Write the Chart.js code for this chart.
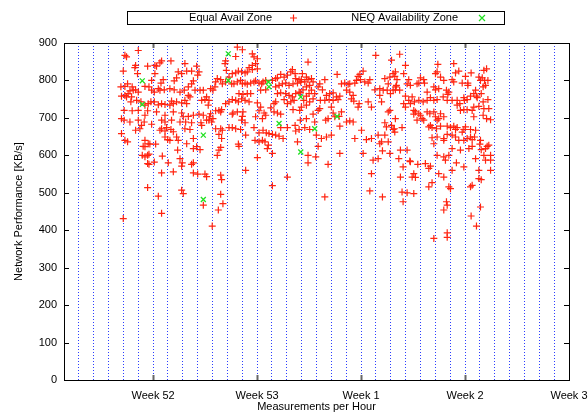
<!DOCTYPE html>
<html>
<head>
<meta charset="utf-8">
<script src="https://cdn.jsdelivr.net/npm/chart.js@4.4.0/dist/chart.umd.min.js"></script>
<style>
  html, body { margin: 0; padding: 0; background: #fff; }
</style>
</head>
<body>
<canvas id="perfChart" width="588" height="414"></canvas>
<script>
// x = day since start of the plotted range (grid every day), y = KB/s
const weekDays = [6, 13, 20, 27, 34];
const weekLabels = ['Week 52', 'Week 53', 'Week 1', 'Week 2', 'Week 3'];

// Equal Avail Zone, days 3.8 - 9.7
const equalDays4to9 = [
  [5.00,880],[4.10,867],[4.21,863],[6.57,852],[7.20,852],[6.46,847],[4.82,840],[4.77,834],[5.63,838],[6.12,840],
  [6.23,838],[8.14,845],[8.93,838],[4.95,818],[3.99,825],[7.69,823],[7.92,818],[8.26,825],[8.59,825],[9.09,823],
  [9.00,814],[7.58,807],[7.42,799],[6.68,802],[6.53,793],[6.12,818],[5.90,800],[4.28,791],[4.10,784],[3.83,783],
  [4.59,783],[5.45,784],[5.72,783],[5.90,774],[6.08,769],[6.35,778],[6.46,774],[6.75,775],[7.13,778],[7.42,775],
  [7.81,769],[8.10,774],[8.37,783],[8.59,791],[8.71,799],[8.82,774],[9.16,774],[9.38,774],[9.60,756],[9.49,749],
  [9.27,747],[8.37,760],[8.48,756],[8.14,747],[8.26,738],[7.92,740],[7.58,743],[7.24,745],[7.36,738],[7.13,734],
  [6.80,736],[6.57,738],[6.35,735],[6.08,743],[5.85,743],[5.67,738],[5.45,734],[5.18,743],[4.89,747],[4.55,756],
  [4.50,743],[4.21,756],[3.87,758],[4.10,760],[4.32,765],[4.44,772],[4.66,774],[4.82,775],[5.00,769],
  [4.05,720],[4.59,719],[5.00,720],[5.63,719],[6.23,716],[6.80,707],[7.36,716],[7.92,713],[8.03,703],[8.37,704],
  [8.71,707],[9.09,710],[9.38,707],[9.60,694],[3.87,698],[4.05,694],[4.44,689],[5.00,694],[5.40,689],[5.45,707],
  [5.90,683],[6.57,694],[6.80,689],[7.24,694],[7.81,689],[8.19,689],[8.59,687],[9.22,687],[9.27,680],[8.14,671],
  [8.48,669],[6.91,674],[6.57,671],[6.46,667],[6.80,665],[7.20,669],[7.36,663],[5.22,680],[5.11,671],[4.82,667],
  [3.87,658],[4.10,640],[4.28,636],[5.45,640],[5.67,631],[5.33,624],[5.45,623],[5.78,630],[6.17,630],[6.80,649],
  [6.98,642],[7.13,640],[7.58,649],[7.69,640],[8.71,645],[9.16,615],[7.65,614],[8.26,631],[8.71,618],[8.93,623],
  [5.27,600],[5.63,600],[5.72,603],[5.45,596],[6.62,598],[7.02,580],[7.81,591],[7.96,580],[7.92,571],[8.71,580],
  [8.59,576],[5.63,578],[5.72,576],[6.08,582],[6.57,553],[7.36,556],[8.71,553],[9.00,550],[9.49,550],[9.60,543],
  [7.92,507],[8.03,498],[5.63,514],[6.35,491],[9.38,467],[6.57,445],[3.99,431]
];

// Equal Avail Zone, days 9.7 - 16
const equalDays10to15 = [
  [11.67,889],[12.01,882],[11.56,864],[12.68,871],[12.79,863],[13.02,858],[10.88,852],[10.84,845],[12.68,840],[12.90,845],
  [13.02,831],[12.68,829],[12.46,834],[12.34,823],[12.19,820],[11.96,823],[11.74,825],[11.56,820],[11.33,818],[10.93,827],
  [11.11,809],[10.88,796],[10.55,802],[10.32,805],[10.21,796],[10.16,783],[10.03,774],[9.87,778],[10.66,791],[11.29,791],
  [11.44,791],[11.67,796],[11.89,800],[12.01,791],[12.19,793],[12.34,790],[12.57,793],[12.79,796],[12.90,799],[13.13,793],
  [13.31,791],[13.40,796],[13.58,800],[13.58,775],[13.24,774],[14.03,800],[14.25,805],[14.37,807],[14.59,816],[14.82,809],
  [15.04,814],[15.27,823],[15.38,829],[15.56,818],[15.60,805],[15.83,802],[15.94,796],[15.72,793],[15.42,791],[15.15,787],
  [14.93,793],[14.70,791],[14.48,787],[14.25,783],[14.59,767],[14.93,765],[14.37,765],[15.15,760],[15.38,756],[15.60,765],
  [15.83,769],[15.49,747],[15.27,743],[15.04,738],[14.82,749],[14.25,743],[14.14,738],[14.14,716],[14.37,713],[14.59,710],
  [13.92,727],[15.87,720],[15.42,722],[9.76,747],[9.71,734],[9.87,711],[9.80,703],[10.03,698],[9.94,689],[9.76,694],
  [10.21,719],[10.43,720],[10.61,722],[10.55,716],[10.88,738],[11.11,743],[11.33,749],[11.56,747],[11.74,743],[11.96,751],
  [12.19,747],[12.46,743],[12.57,765],[12.34,765],[12.05,763],[11.78,765],[13.02,740],[13.24,729],[13.13,719],[13.47,713],
  [13.58,707],[12.90,703],[13.36,698],[11.38,713],[11.67,716],[12.05,716],[12.01,704],[11.96,694],[12.19,687],[11.33,710],
  [11.11,674],[11.33,674],[11.56,671],[11.89,669],[12.23,654],[12.79,674],[13.13,660],[12.86,640],[13.13,636],[13.36,640],
  [13.53,636],[13.62,660],[13.40,667],[13.80,658],[14.03,656],[13.69,618],[14.03,605],[13.76,627],[14.59,674],[15.04,674],
  [15.56,680],[15.60,665],[15.83,669],[15.72,636],[14.75,645],[14.25,654],[14.48,651],[10.21,671],[10.55,671],[10.66,667],
  [10.43,656],[10.61,645],[10.43,614],[10.32,600],[10.55,621],[11.78,624],[11.74,630],[10.55,547],[10.61,535],[12.23,560],
  [13.02,594],[15.04,542],[14.03,519],[10.55,496],[10.70,471],[10.39,454],[9.98,411]
];

// Equal Avail Zone, days 16 - 22.3
const equalDays16to22 = [
  [16.43,849],[20.99,867],[22.05,854],[18.39,816],[17.56,802],[17.22,791],[17.11,783],[17.40,775],[16.05,818],[16.32,809],
  [15.98,802],[16.21,796],[16.43,802],[16.66,805],[16.77,796],[16.54,787],[16.32,783],[16.09,775],[15.91,767],[16.66,774],
  [16.50,765],[16.88,765],[16.32,758],[16.14,747],[16.54,743],[16.32,734],[16.77,751],[15.98,729],[17.89,765],[17.67,760],
  [18.12,767],[18.34,756],[18.57,758],[18.45,749],[18.12,747],[17.85,749],[17.56,747],[17.26,747],[18.68,791],[18.90,793],
  [19.13,790],[19.24,791],[19.58,793],[19.69,800],[19.80,811],[19.92,816],[20.14,825],[19.96,802],[20.25,796],[20.48,793],
  [20.59,802],[20.93,775],[21.26,778],[21.49,774],[21.60,805],[21.83,791],[21.94,809],[22.16,818],[22.27,811],[22.34,783],
  [22.16,774],[21.98,765],[21.76,774],[19.02,774],[19.24,769],[19.47,760],[19.35,751],[19.51,745],[19.80,729],[19.87,738],
  [20.48,743],[20.70,729],[21.26,760],[21.38,743],[21.83,716],[21.94,720],[21.60,687],[21.71,676],[22.05,680],[22.16,669],
  [22.27,662],[16.77,710],[17.11,720],[17.22,725],[17.62,694],[17.78,698],[18.00,729],[18.12,713],[18.68,716],[18.52,704],
  [18.23,703],[16.88,689],[15.91,694],[16.32,698],[16.21,674],[16.54,669],[16.99,654],[17.33,645],[17.67,649],[18.00,654],
  [18.57,678],[19.02,689],[19.24,692],[19.47,689],[19.58,645],[20.03,667],[20.36,642],[20.70,645],[21.15,654],[21.60,654],
  [21.38,636],[21.26,631],[21.83,636],[21.94,605],[20.14,605],[21.44,612],[21.15,591],[20.81,587],[18.57,605],[17.11,624],
  [16.43,600],[16.95,596],[16.43,580],[17.78,576],[20.70,551],[20.59,505],[17.56,489],[21.44,489]
];

// Equal Avail Zone, days 22.2 - 28.8
const equalDays22to29 = [
  [22.60,870],[22.99,840],[22.87,818],[22.31,823],[22.42,802],[22.38,787],[22.60,774],[22.31,775],[23.21,802],[23.10,791],
  [23.32,787],[23.77,791],[24.00,807],[24.22,802],[24.27,793],[23.89,793],[24.45,769],[24.90,783],[25.01,775],[25.23,778],
  [25.12,823],[25.17,843],[25.01,818],[25.35,809],[25.57,800],[25.75,774],[25.91,769],[25.84,763],[26.13,802],[26.24,796],
  [26.36,820],[26.58,825],[26.81,793],[26.24,845],[27.03,811],[27.19,793],[27.19,787],[27.41,820],[27.71,774],[27.59,765],
  [27.77,758],[27.93,809],[28.04,800],[28.16,807],[28.27,827],[28.31,800],[28.45,831],[28.54,800],[28.22,783],[28.38,787],
  [28.09,765],[27.82,754],[28.22,743],[27.37,758],[22.99,758],[22.87,738],[23.21,747],[23.44,756],[23.32,738],[22.99,729],
  [23.59,743],[23.89,747],[24.18,743],[24.45,747],[24.67,754],[24.90,747],[25.12,749],[25.53,756],[25.80,747],[26.13,747],
  [26.47,747],[26.65,738],[26.92,754],[26.96,747],[27.14,749],[26.47,734],[26.69,720],[26.92,722],[27.14,722],[27.48,720],
  [27.59,729],[27.93,731],[28.27,725],[28.60,725],[28.54,749],[28.22,707],[28.45,698],[28.72,695],[27.59,703],[23.55,720],
  [23.66,716],[23.89,711],[24.00,707],[24.11,698],[24.22,694],[23.77,694],[23.55,710],[24.45,716],[24.63,711],[24.90,716],
  [25.01,703],[25.23,698],[25.57,703],[25.35,711],[25.12,694],[24.67,680],[24.56,676],[24.78,674],[25.08,671],[25.35,678],
  [25.80,678],[26.02,674],[26.24,678],[26.47,674],[26.36,669],[26.81,662],[26.92,669],[27.03,676],[27.37,669],[27.71,667],
  [25.80,656],[25.57,645],[25.12,649],[24.78,647],[24.90,631],[25.57,640],[26.13,654],[26.36,649],[26.58,640],[26.92,640],
  [27.14,645],[27.37,649],[27.48,642],[27.64,649],[28.04,640],[28.00,630],[28.49,624],[28.60,627],[28.38,618],[28.09,615],
  [27.48,624],[27.26,618],[26.69,614],[26.13,618],[25.12,600],[25.57,596],[25.68,587],[25.91,600],[26.42,580],[26.92,569],
  [27.71,591],[28.27,600],[28.38,587],[22.31,698],[22.24,671],[22.76,674],[22.65,614],[23.10,614],[22.54,591],[23.32,583],
  [23.28,585],[23.82,576],[24.33,578],[22.83,569],[24.56,565],[24.67,571],[25.23,551],[23.55,551],[23.66,541],[23.44,542],
  [25.57,542],[26.13,560],[27.93,560],[28.09,535],[25.91,516],[27.37,516],[27.48,520],[26.02,511],[22.65,542],[24.56,516],
  [24.78,527],[22.76,502],[23.10,500],[23.55,498],[22.83,476],[25.75,476],[25.80,467],[25.57,454],[28.04,462],[27.41,438],
  [27.77,411],[25.80,393],[24.90,378],[25.80,381],[27.93,538],[28.72,560],[28.72,587],[28.72,600]
];

// NEQ Availability Zone
const neqZone = [
  [5.27,799],[5.27,736],[9.38,654],[9.38,482],[11.06,871],[11.06,800],[13.76,796],[13.80,783],
  [15.94,756],[15.94,609],[14.48,685],[18.39,704],[16.88,671]
];

const toXY = arr => arr.map(p => ({ x: p[0], y: p[1] }));
const equalZone = [].concat(equalDays4to9, equalDays10to15, equalDays16to22, equalDays22to29);

const FONT = "'Liberation Sans', Arial, Helvetica, sans-serif";
const RED = 'rgb(255,36,16)';
const GREEN = 'rgb(32,224,32)';

// gnuplot style: frame, inward ticks, key box with sample on the right
const gnuplotFrame = {
  id: 'gnuplotFrame',
  afterDatasetsDraw(chart) {
    const { ctx, chartArea: a, scales } = chart;
    ctx.save();
    ctx.strokeStyle = '#000';
    ctx.lineWidth = 1;
    for (let v = 100; v < 900; v += 100) {
      const y = Math.round(scales.y.getPixelForValue(v)) + 0.5;
      ctx.beginPath();
      ctx.moveTo(a.left, y); ctx.lineTo(a.left + 5, y);
      ctx.moveTo(a.right, y); ctx.lineTo(a.right - 5, y);
      ctx.stroke();
    }
    ctx.strokeStyle = '#666';
    ctx.lineWidth = 2;
    weekDays.slice(0, -1).forEach(d => {
      const x = Math.round(scales.x.getPixelForValue(d)) + 0.5;
      ctx.beginPath();
      ctx.moveTo(x, a.bottom); ctx.lineTo(x, a.bottom - 5);
      ctx.moveTo(x, a.top); ctx.lineTo(x, a.top + 5);
      ctx.stroke();
    });
    ctx.strokeStyle = '#000';
    ctx.lineWidth = 1;
    ctx.strokeRect(Math.round(a.left) + 0.5, Math.round(a.top) + 0.5,
      Math.round(a.right - a.left), Math.round(a.bottom - a.top));
    ctx.restore();
  },
  afterDraw(chart) {
    const ctx = chart.ctx;
    ctx.save();
    ctx.strokeStyle = '#000';
    ctx.lineWidth = 1;
    ctx.strokeRect(127.5, 11.5, 377, 13);
    ctx.font = '11px ' + FONT;
    ctx.fillStyle = '#000';
    ctx.textAlign = 'right';
    ctx.textBaseline = 'middle';
    ctx.fillText('Equal Avail Zone', 272, 18);
    ctx.fillText('NEQ Availability Zone', 458, 18);
    ctx.lineWidth = 1.2;
    ctx.strokeStyle = RED;
    ctx.beginPath();
    ctx.moveTo(290, 18); ctx.lineTo(297, 18);
    ctx.moveTo(293.5, 14.5); ctx.lineTo(293.5, 21.5);
    ctx.stroke();
    ctx.strokeStyle = GREEN;
    ctx.beginPath();
    ctx.moveTo(479, 15); ctx.lineTo(485, 21);
    ctx.moveTo(485, 15); ctx.lineTo(479, 21);
    ctx.stroke();
    ctx.restore();
  }
};

new Chart(document.getElementById('perfChart'), {
  type: 'scatter',
  data: {
    datasets: [
      {
        label: 'NEQ Availability Zone',
        data: toXY(neqZone),
        pointStyle: 'crossRot',
        pointRadius: 3.5,
        borderColor: GREEN,
        backgroundColor: GREEN,
        borderWidth: 1.3,
        order: 0
      },
      {
        label: 'Equal Avail Zone',
        data: toXY(equalZone),
        pointStyle: 'cross',
        pointRadius: 3.5,
        borderColor: RED,
        backgroundColor: RED,
        borderWidth: 1.2,
        order: 1
      }
    ]
  },
  options: {
    responsive: false,
    animation: false,
    devicePixelRatio: 1,
    layout: { padding: { top: 43, right: 19, left: 0, bottom: 0 } },
    plugins: {
      legend: { display: false },
      tooltip: { enabled: false }
    },
    scales: {
      x: {
        type: 'linear',
        min: 0,
        max: 34,
        afterFit: s => { s.height = 34; s.paddingLeft = 0; s.paddingRight = 0; },
        ticks: {
          stepSize: 1,
          autoSkip: false,
          maxRotation: 0,
          padding: 9,
          color: '#000',
          font: { family: FONT, size: 11 },
          callback: v => {
            const i = weekDays.indexOf(v);
            return i >= 0 ? weekLabels[i] : '';
          }
        },
        grid: { color: 'rgba(20,40,255,0.9)', lineWidth: 1, drawTicks: false },
        border: { display: false, dash: [1, 2] },
        title: {
          display: true,
          text: 'Measurements per Hour',
          color: '#000',
          font: { family: FONT, size: 11 },
          padding: { top: 0, bottom: 0 }
        }
      },
      y: {
        min: 0,
        max: 900,
        afterFit: s => { s.width = 64; s.paddingTop = 0; s.paddingBottom = 0; },
        ticks: {
          stepSize: 100,
          padding: 7,
          color: '#000',
          font: { family: FONT, size: 11 }
        },
        grid: { display: false, drawTicks: false },
        border: { display: false },
        title: {
          display: true,
          text: 'Network Performance [KB/s]',
          color: '#000',
          font: { family: FONT, size: 11 },
          padding: { top: 12, bottom: 0 }
        }
      }
    }
  },
  plugins: [gnuplotFrame]
});
</script>
</body>
</html>
